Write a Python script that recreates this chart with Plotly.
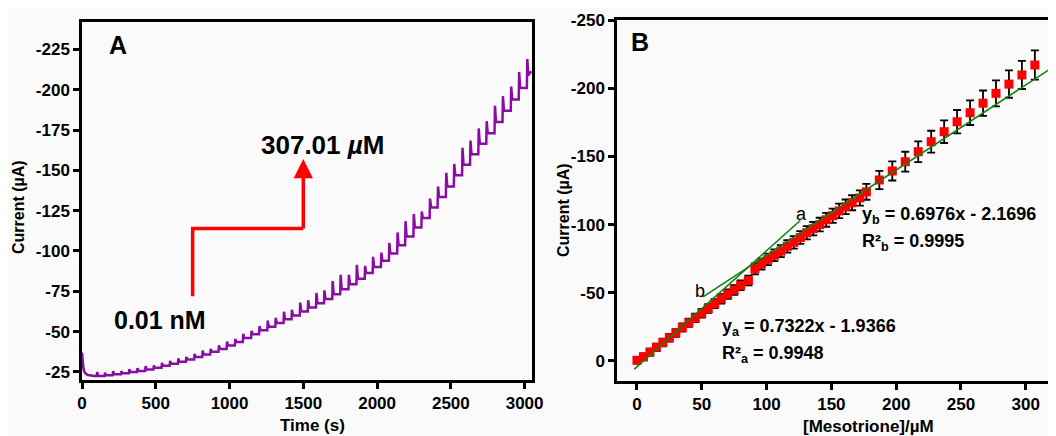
import plotly.graph_objects as go

# ---------------- Panel A data (amperometric i-t) ----------------
decay_time = [0, 4, 9, 16, 26, 40, 60, 85]
decay_current = [-37, -31, -27.5, -25.2, -23.9, -23.1, -22.7, -22.5]

inj_time = [100, 153, 208, 264, 318, 373, 428, 484, 539, 594,
            650, 704, 760, 815, 869, 925, 980, 1036, 1090, 1146,
            1200, 1256, 1310, 1366, 1420, 1476, 1530, 1586, 1640, 1696,
            1750, 1806, 1860, 1916, 1970, 2026, 2080, 2136, 2190, 2246,
            2300, 2356, 2410, 2466, 2520, 2576, 2630, 2686, 2740, 2796,
            2850, 2906, 2960, 3015]
level_A = [22.5, 23.0, 23.5, 24.2, 24.9, 25.6, 26.5, 27.6, 28.8, 30.0,
           31.3, 32.7, 34.2, 35.8, 37.5, 39.3, 41.4, 43.6, 46.0, 48.4,
           50.8, 53.0, 55.3, 57.6, 60.0, 62.5, 65.0, 67.6, 70.3, 73.2,
           76.2, 79.4, 82.8, 86.4, 90.0, 94.0, 98.5, 103.5, 109.0, 114.5,
           120.5, 127.0, 133.5, 140.0, 147.0, 153.5, 160.0, 166.5, 173.0, 180.0,
           187.0, 194.0, 201.0, 209.0]
spike_A = [2.5, 2, 2.5, 2, 2.5, 2.5, 3, 2.5, 3, 3,
           3.5, 3, 3.5, 4, 3.5, 4, 4.5, 4, 5, 4.5,
           5, 6, 5.5, 7, 6, 8, 7, 9, 8, 11,
           12, 9, 12, 8, 10, 9, 11, 13, 15, 14,
           10, 12, 13, 15, 14, 17, 15, 16, 14, 17,
           16, 15, 17, 18]
end_time = 3045
end_level = 211.5

# ---------------- Panel B data (calibration) ----------------
conc_B = [0, 5, 10, 15, 20, 25, 30, 35, 40, 45, 50, 55, 60, 65, 70, 75, 80, 86,
          91, 96, 101, 106, 111, 116, 121, 126, 131, 136, 141, 146, 151, 156, 161, 166, 172, 177,
          187, 197, 207, 217, 227, 237, 247, 257, 267, 277, 287, 297, 307]
current_B = [-0.5, -3, -6.5, -10, -13.5, -17, -20.5, -24.5, -28, -31.5, -35, -38.5, -42, -45.5, -49, -52, -55.5, -59,
             -67.5, -71, -74.5, -77.5, -80.5, -84, -87, -90.5, -94, -97, -100, -103.5, -106.5, -110, -113, -116, -119.5, -124,
             -132.7, -139.3, -146.1, -153.4, -160.8, -168.1, -175.4, -182, -189, -196.2, -203, -209.7, -217]
err_B = [2.5, 2.5, 2.6, 2.7, 2.8, 2.8, 2.9, 3.0, 3.0, 3.1, 3.2, 3.2, 3.3, 3.4, 3.4, 3.5, 3.5, 3.6,
         4.0, 4.1, 4.2, 4.3, 4.4, 4.5, 4.6, 4.7, 4.8, 4.9, 5.0, 5.1, 5.2, 5.3, 5.4, 5.5, 5.6, 5.8,
         6.7, 7.0, 7.3, 7.6, 8.0, 8.3, 8.6, 9.0, 9.3, 9.6, 10.0, 10.3, 10.7]

fit_a_c = [-2, 126]
fit_a_v = [6, -103]
fit_b_c = [51, 325]
fit_b_v = [-47, -218]

tick_A_y = [-225, -200, -175, -150, -125, -100, -75, -50, -25]
tick_A_x = [0, 500, 1000, 1500, 2000, 2500, 3000]
tick_B_y = [-250, -200, -150, -100, -50, 0]
tick_B_x = [0, 50, 100, 150, 200, 250, 300]

# arrow guide (panel A annotation)
guide_t = [750, 750, 1500]
guide_v = [-72, -114, -114]

# ---------------- build trace A ----------------
tA = list(decay_time)
vA = list(decay_current)
prev = level_A[0]
for t, lev, sp in zip(inj_time, level_A, spike_A):
    tA += [t, t + 3, t + 10]
    vA += [-prev, -(prev + sp), -lev]
    prev = lev
tA.append(end_time)
vA.append(-end_level)

# page body has an 8px default margin -> figure is 1048x428 placed at (8, 8)
W, H, OFF = 1048, 428, 8
def px(x):
    return (x - OFF) / W
def py(y):
    return 1 - (y - OFF) / H

FONT = "Liberation Sans, Arial, sans-serif"
fig = go.Figure()

fig.add_trace(go.Scatter(x=tA, y=vA, mode="lines", line=dict(color="#8B0CA3", width=2.5),
                         xaxis="x", yaxis="y", showlegend=False))
fig.add_trace(go.Scatter(x=guide_t, y=guide_v, mode="lines", line=dict(color="#FF0000", width=3.5),
                         xaxis="x", yaxis="y", showlegend=False))

fig.add_trace(go.Scatter(x=conc_B, y=current_B, mode="markers",
                         marker=dict(symbol="square", size=9, color="#FF0000"),
                         error_y=dict(type="data", array=err_B, color="black", thickness=1.8, width=4),
                         xaxis="x2", yaxis="y2", showlegend=False))
fig.add_trace(go.Scatter(x=fit_a_c, y=fit_a_v, mode="lines", line=dict(color="#137F13", width=1.6),
                         xaxis="x2", yaxis="y2", showlegend=False))
fig.add_trace(go.Scatter(x=fit_b_c, y=fit_b_v, mode="lines", line=dict(color="#137F13", width=1.6),
                         xaxis="x2", yaxis="y2", showlegend=False))

tickfont = dict(family=FONT, size=17, color="black", weight="bold")
axis_common = dict(showline=True, linecolor="black", linewidth=2.5, ticks="outside",
                   ticklen=6, tickwidth=2.5, tickcolor="black", showgrid=False,
                   zeroline=False, tickfont=tickfont, automargin=False)

fig.update_layout(
    width=W, height=H,
    margin=dict(l=0, r=0, t=0, b=0, autoexpand=False),
    paper_bgcolor="#fafafa", plot_bgcolor="#fafafa",
    xaxis=dict(domain=[px(82), px(532)], range=[0, 3050], tickvals=tick_A_x,
               ticktext=[str(v) for v in tick_A_x], mirror=True, anchor="y", **axis_common),
    yaxis=dict(domain=[py(380), py(22)], range=[-20, -242], tickvals=tick_A_y,
               ticktext=[str(v) for v in tick_A_y], mirror=True, anchor="x", **axis_common),
    xaxis2=dict(domain=[px(617), 1.0], range=[-15.4, 323.3], tickvals=tick_B_x,
                ticktext=[str(v) for v in tick_B_x], mirror=True, anchor="y2", **axis_common),
    yaxis2=dict(domain=[py(381), py(20)], range=[14.7, -250], tickvals=tick_B_y,
                ticktext=[str(v) for v in tick_B_y], mirror=False, anchor="x2", **axis_common),
)

def ann(text, x, y, xref, yref, size, bold=True, xanchor="center", yanchor="middle", angle=0):
    fig.add_annotation(text=text, x=x, y=y, xref=xref, yref=yref, showarrow=False,
                       xanchor=xanchor, yanchor=yanchor, textangle=angle,
                       font=dict(family=FONT, size=size, color="black",
                                 weight="bold" if bold else "normal"))

# panel A texts
ann("A", 241, -228, "x", "y", 25)
ann("0.01 nM", 527, -57, "x", "y", 25)
ann("307.01 <i>µ</i>M", 1629, -166, "x", "y", 26)
fig.add_annotation(x=1500, y=-157, ax=1500, ay=-113, xref="x", yref="y", axref="x", ayref="y",
                   showarrow=True, arrowhead=2, arrowsize=1.1, arrowwidth=3.5, arrowcolor="#FF0000", text="")

# panel B texts
ann("B", 2.3, -234, "x2", "y2", 25)
ann("y<sub>b</sub> = 0.6976x - 2.1696", 172, -107, "x2", "y2", 18, xanchor="left")
ann("R²<sub>b</sub> = 0.9995", 172, -86.5, "x2", "y2", 18, xanchor="left")
ann("y<sub>a</sub> = 0.7322x - 1.9366", 64, -24.2, "x2", "y2", 18, xanchor="left")
ann("R²<sub>a</sub> = 0.9948", 64, -4.4, "x2", "y2", 18, xanchor="left")
ann("a", 127, -108, "x2", "y2", 18, bold=False)
ann("b", 48.6, -51.5, "x2", "y2", 18, bold=False)

# axis titles
ann("Current (µA)", px(18), py(207), "paper", "paper", 16, angle=-90)
ann("Time (s)", px(312), py(425), "paper", "paper", 17)
ann("Current (µA)", px(563), py(210), "paper", "paper", 16, angle=-90)
ann("[Mesotrione]/µM", px(868), py(426), "paper", "paper", 17)

fig.write_html("out.html")
